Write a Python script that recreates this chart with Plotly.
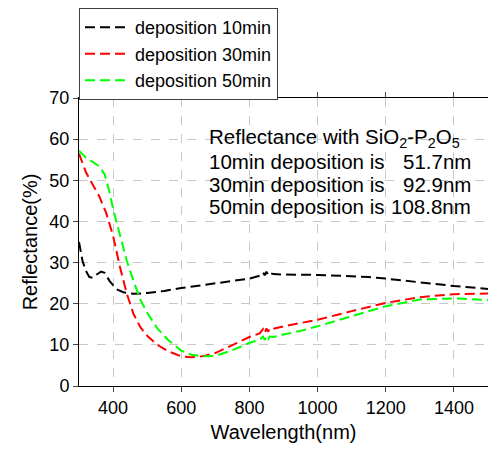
import plotly.graph_objects as go

wl_10 = [300, 310, 320, 330, 340, 350, 365, 375, 390, 410, 430, 460, 500, 550, 600, 650, 700, 750, 800,
         830, 840, 845, 850, 855, 860, 870, 900, 1000, 1100, 1150, 1200, 1300, 1400, 1500]
r_10 = [35.0, 30.5, 28.0, 26.5, 26.3, 27.0, 27.8, 27.5, 25.5, 23.5, 22.8, 22.4, 22.6, 23.1, 23.8, 24.4, 25.0, 25.6, 26.1,
        26.8, 27.6, 26.9, 27.8, 27.0, 27.5, 27.2, 27.1, 27.0, 26.7, 26.5, 26.1, 25.2, 24.3, 23.6]

wl_30 = [300, 320, 340, 360, 380, 400, 420, 440, 460, 480, 500, 530, 560, 600, 630, 660, 700, 750, 800,
         830, 840, 845, 850, 855, 860, 870, 900, 950, 1000, 1100, 1200, 1300, 1400, 1500]
r_30 = [56.5, 52.0, 49.0, 46.0, 42.0, 36.5, 29.0, 22.5, 17.5, 14.3, 12.2, 10.0, 8.5, 7.2, 7.0, 7.2, 8.0, 9.9, 11.9,
        12.8, 13.8, 12.9, 14.0, 13.2, 14.1, 13.9, 14.5, 15.3, 16.1, 18.2, 20.2, 21.6, 22.3, 22.5]

wl_50 = [300, 320, 340, 360, 375, 390, 400, 420, 440, 460, 480, 500, 530, 560, 600, 630, 660, 700, 750, 800,
         830, 840, 845, 850, 855, 860, 870, 900, 950, 1000, 1100, 1200, 1300, 1400, 1500]
r_50 = [57.2, 55.5, 54.5, 53.3, 51.5, 47.0, 43.0, 36.5, 30.5, 25.5, 21.0, 17.8, 14.0, 11.3, 8.6, 7.6, 7.2, 7.3, 8.7, 10.5,
        11.2, 12.0, 11.2, 12.1, 11.4, 12.0, 11.9, 12.5, 13.4, 14.5, 16.9, 19.4, 21.0, 21.3, 20.9]

names = ["deposition 10min", "deposition 30min", "deposition 50min"]
colors = ["#000000", "#ff0000", "#00ff00"]

title_line = "Reflectance with SiO<sub>2</sub>-P<sub>2</sub>O<sub>5</sub>"
info_left = ["10min deposition is", "30min deposition is", "50min deposition is"]
info_right = ["51.7nm", "92.9nm", "108.8nm"]

FONT = "Liberation Sans, Arial, sans-serif"

fig = go.Figure()
for wl, r, n, c in zip([wl_10, wl_30, wl_50], [r_10, r_30, r_50], names, colors):
    fig.add_trace(go.Scatter(x=wl, y=r, mode="lines", name=n,
                             line=dict(color=c, width=2, dash="10px,5px")))

ann = [dict(text=title_line, x=0.32, y=0.861, xref="paper", yref="paper",
            xanchor="left", yanchor="middle", showarrow=False, xshift=-3,
            font=dict(size=20.5, color="black", family=FONT))]
ys = [0.778, 0.698, 0.622]
for t, v, yy in zip(info_left, info_right, ys):
    ann.append(dict(text=t, x=0.32, y=yy, xref="paper", yref="paper",
                    xanchor="left", yanchor="middle", showarrow=False, xshift=-3,
                    font=dict(size=20.5, color="black", family=FONT)))
    ann.append(dict(text=v, x=0.957, y=yy, xref="paper", yref="paper",
                    xanchor="right", yanchor="middle", showarrow=False, xshift=3,
                    font=dict(size=20.5, color="black", family=FONT)))

fig.update_layout(
    width=488, height=449,
    margin=dict(l=79, r=0, t=98, b=63, autoexpand=False),
    paper_bgcolor="white", plot_bgcolor="white",
    font=dict(family=FONT, size=18, color="black"),
    annotations=ann,
    legend=dict(x=0, y=1.312, xanchor="left", yanchor="top",
                bgcolor="white", bordercolor="#404040", borderwidth=1,
                itemwidth=45,
                font=dict(size=18, color="black", family=FONT)),
    showlegend=True,
)
fig.update_xaxes(range=[300, 1500], tick0=400, dtick=200, ticks="outside", ticklen=5,
                 showline=True, linecolor="black", linewidth=1, mirror="ticks",
                 showgrid=True, gridcolor="#c8c8c8", griddash="dash", gridwidth=1,
                 zeroline=False, automargin=False,
                 title=dict(text="Wavelength(nm)", font=dict(size=20), standoff=8),
                 tickfont=dict(size=18))
fig.update_yaxes(range=[0, 70], dtick=10, ticks="outside", ticklen=5,
                 showline=True, linecolor="black", linewidth=1, mirror=True,
                 showgrid=True, gridcolor="#c8c8c8", griddash="dash", gridwidth=1,
                 zeroline=False, automargin=False,
                 title=dict(text="Reflectance(%)", font=dict(size=20), standoff=6),
                 tickfont=dict(size=18))

fig.write_html("out.html")
